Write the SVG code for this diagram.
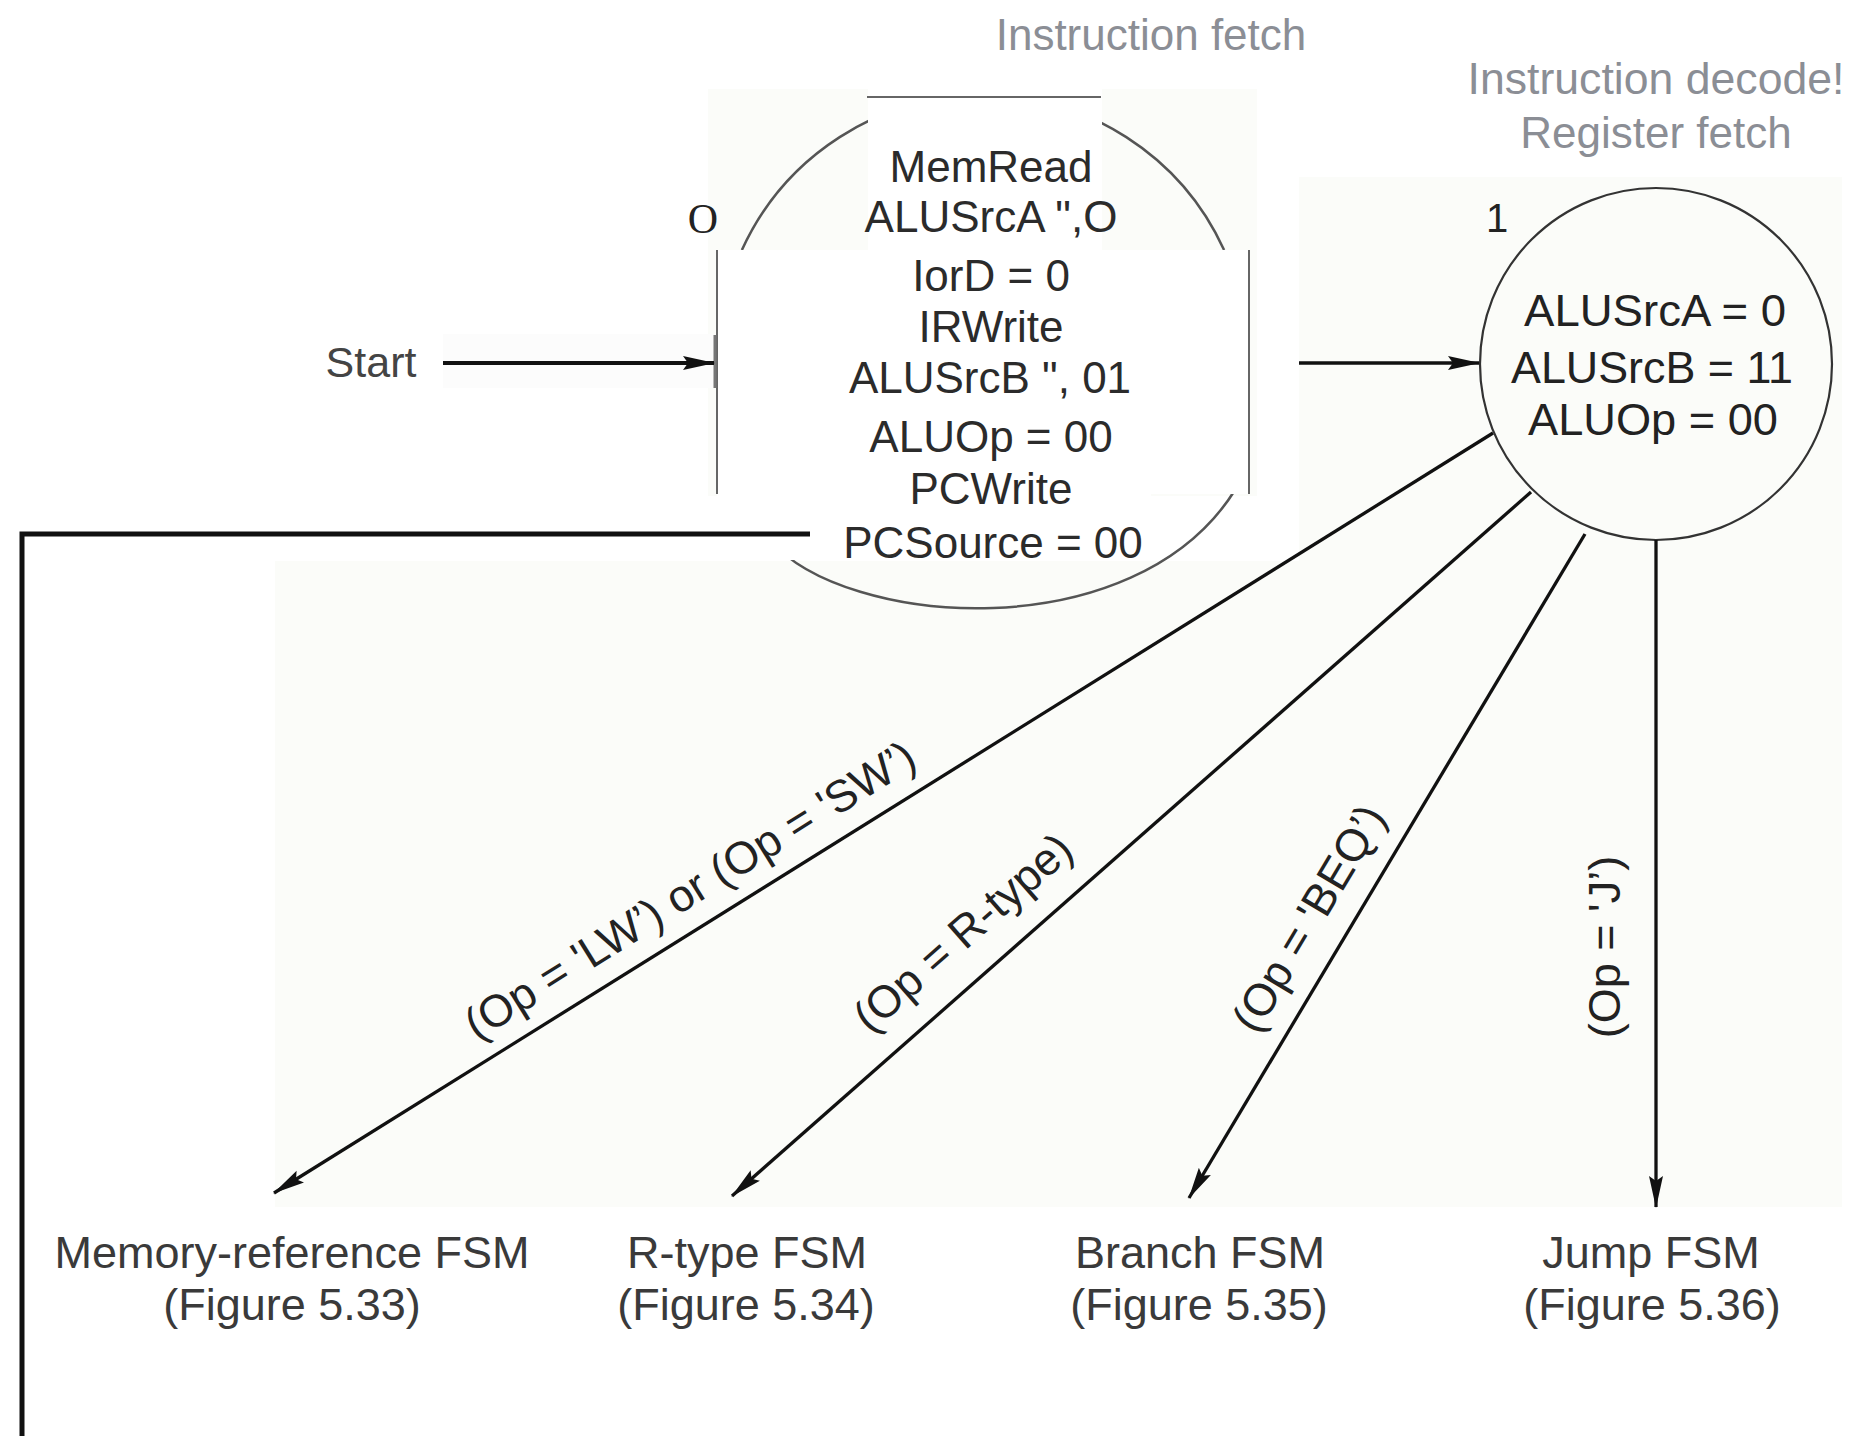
<svg xmlns="http://www.w3.org/2000/svg" width="1851" height="1436" viewBox="0 0 1851 1436">
  <defs>
    <marker id="ah" markerUnits="userSpaceOnUse" markerWidth="32" markerHeight="16" refX="31" refY="8" orient="auto">
      <path d="M0,1 L32,8 L0,15 L5,8 z" fill="#111"/>
    </marker>
    <style>
      .t { font-family: "Liberation Sans", Arial, sans-serif; fill: #2b2b2b; text-anchor: middle; }
      .hdr { font-size: 44px; fill: #8b8e95; }
      .s0 { font-size: 44px; }
      .s1 { font-size: 45px; fill: #222; }
      .lbl { font-size: 45px; fill: #222; }
      .bot { font-size: 45px; fill: #3a3a3a; }
      .edge { stroke: #111; stroke-width: 3.3; fill: none; marker-end: url(#ah); }
      .tint { fill: #fbfcf9; }
      .box { fill: #ffffff; }
      .edgeline { stroke: #666; stroke-width: 2; }
      .arc0 { fill: none; stroke: #555; stroke-width: 2.5; }
    </style>
  </defs>
  <rect width="1851" height="1436" fill="#ffffff"/>

  <!-- faint background tints of the scanned figure -->
  <rect class="tint" x="708" y="89" width="549" height="407"/>
  <rect class="tint" x="1299" y="177" width="543" height="384"/>
  <rect class="tint" x="275" y="561" width="1567" height="646"/>
  <rect x="443" y="334" width="270" height="54" fill="#fcfcfc"/>

  <!-- headers -->
  <g id="headers">
    <text class="t hdr" x="1151" y="50">Instruction fetch</text>
    <text class="t hdr" x="1656" y="94" textLength="377" lengthAdjust="spacingAndGlyphs">Instruction decode!</text>
    <text class="t hdr" x="1656" y="148">Register fetch</text>
  </g>

  <!-- state 0 -->
  <g id="state0">
    <path class="arc0" d="M741.9,250 A265,265 0 0 1 1224.1,250"/>
    <path class="arc0" d="M770,540 C845,628 1135,650 1235,490"/>
    <rect class="box" x="868" y="88" width="234" height="172"/>
    <rect class="box" x="717" y="250" width="532" height="244"/>
    <rect class="box" x="717" y="494" width="434" height="66"/>
    <line class="edgeline" x1="867" y1="97" x2="1101" y2="97"/>
    <line class="edgeline" x1="717" y1="250" x2="717" y2="494"/>
    <line class="edgeline" x1="1249" y1="250" x2="1249" y2="494"/>
    <line x1="715" y1="335" x2="715" y2="388" stroke="#777" stroke-width="3"/>
    <text x="703" y="233" style="font-family:'Liberation Serif','Times New Roman',serif;font-size:42px;fill:#222;text-anchor:middle">O</text>
    <text class="t s0" x="991" y="182">MemRead</text>
    <text class="t s0" x="991" y="232">ALUSrcA ",O</text>
    <text class="t s0" x="991" y="291">IorD = 0</text>
    <text class="t s0" x="991" y="342">IRWrite</text>
    <text class="t s0" x="990" y="393">ALUSrcB ", 01</text>
    <text class="t s0" x="991" y="452">ALUOp = 00</text>
    <text class="t s0" x="991" y="504">PCWrite</text>
    <text class="t s0" x="993" y="558">PCSource = 00</text>
  </g>

  <!-- state 1 -->
  <g id="state1">
    <circle cx="1656" cy="364" r="176" fill="none" stroke="#333" stroke-width="2.2"/>
    <text class="t" x="1497" y="232" style="font-size:40px;fill:#222">1</text>
    <text class="t s1" x="1655" y="326" textLength="262" lengthAdjust="spacingAndGlyphs">ALUSrcA = 0</text>
    <text class="t s1" x="1652" y="383" textLength="282" lengthAdjust="spacingAndGlyphs">ALUSrcB = 11</text>
    <text class="t s1" x="1653" y="435" textLength="250" lengthAdjust="spacingAndGlyphs">ALUOp = 00</text>
  </g>

  <!-- start -->
  <g id="start">
    <text class="t" x="371" y="377" style="font-size:43px;fill:#444">Start</text>
  </g>

  <!-- target FSMs -->
  <g id="memref">
    <text class="t bot" x="292" y="1268">Memory-reference FSM</text>
    <text class="t bot" x="292" y="1320">(Figure 5.33)</text>
  </g>
  <g id="rtype">
    <text class="t bot" x="747" y="1268">R-type FSM</text>
    <text class="t bot" x="746" y="1320">(Figure 5.34)</text>
  </g>
  <g id="branch">
    <text class="t bot" x="1200" y="1268">Branch FSM</text>
    <text class="t bot" x="1199" y="1320">(Figure 5.35)</text>
  </g>
  <g id="jump">
    <text class="t bot" x="1651" y="1268">Jump FSM</text>
    <text class="t bot" x="1652" y="1320">(Figure 5.36)</text>
  </g>

  <!-- connectors -->
  <g id="connectors">
    <line class="edge" x1="443" y1="363" x2="714" y2="363" style="stroke-width:4"/>
    <line class="edge" x1="1299" y1="363" x2="1479" y2="363"/>
    <line class="edge" x1="1493" y1="433" x2="274" y2="1193"/>
    <line class="edge" x1="1531" y1="492" x2="732" y2="1196"/>
    <line class="edge" x1="1585" y1="534" x2="1189" y2="1198"/>
    <line class="edge" x1="1656" y1="540" x2="1656" y2="1207"/>
    <path d="M810,534 H22 V1436" fill="none" stroke="#111" stroke-width="5"/>
    <text class="t lbl" transform="translate(698,903) rotate(-31.94)">(Op = 'LW’) or (Op = 'SW’)</text>
    <text class="t lbl" transform="translate(973,944) rotate(-41.38)">(Op = R-type)</text>
    <text class="t lbl" transform="translate(1322,926) rotate(-59.18)">(Op = 'BEQ’)</text>
    <text class="t lbl" transform="translate(1620,947) rotate(-90)">(Op = 'J’)</text>
  </g>
</svg>
